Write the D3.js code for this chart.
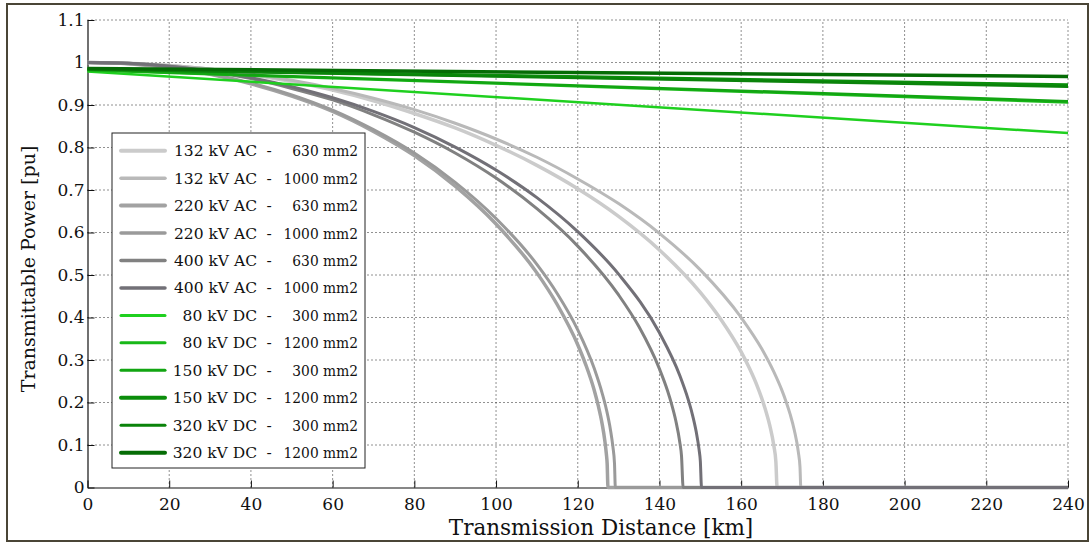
<!DOCTYPE html>
<html>
<head>
<meta charset="utf-8">
<script src="https://cdn.jsdelivr.net/npm/d3@7"></script>
<style>
  html, body { margin: 0; padding: 0; background: #fff; }
  svg { display: block; }
  text { font-family: "DejaVu Serif", "Liberation Serif", serif; fill: #111; }
</style>
</head>
<body>
<svg id="chart" width="1092" height="543"></svg>
<script>
// ---------------- DATA ----------------
const xTicks = [0, 20, 40, 60, 80, 100, 120, 140, 160, 180, 200, 220, 240];
const yTicks = [0, 0.1, 0.2, 0.3, 0.4, 0.5, 0.6, 0.7, 0.8, 0.9, 1.0, 1.1];
const yTickLabels = ["0", "0.1", "0.2", "0.3", "0.4", "0.5", "0.6", "0.7", "0.8", "0.9", "1", "1.1"];

const seriesNames = [
  ["132 kV AC", "630 mm2"], ["132 kV AC", "1000 mm2"],
  ["220 kV AC", "630 mm2"], ["220 kV AC", "1000 mm2"],
  ["400 kV AC", "630 mm2"], ["400 kV AC", "1000 mm2"],
  ["80 kV DC", "300 mm2"], ["80 kV DC", "1200 mm2"],
  ["150 kV DC", "300 mm2"], ["150 kV DC", "1200 mm2"],
  ["320 kV DC", "300 mm2"], ["320 kV DC", "1200 mm2"]
];

// AC cables (distance km / transmittable power pu)
const ac132_630_km = [0, 10, 20, 30, 40, 50, 60, 70, 80, 90, 100, 110, 120, 130, 140, 150, 155, 160, 162, 164, 165, 166, 167, 168, 168.5, 168.8, 240];
const ac132_630_pu = [1.0, 0.998, 0.993, 0.984, 0.971, 0.955, 0.935, 0.910, 0.880, 0.846, 0.805, 0.758, 0.703, 0.638, 0.559, 0.459, 0.396, 0.319, 0.281, 0.237, 0.211, 0.181, 0.146, 0.098, 0.060, 0, 0];

const ac132_1000_km = [0, 10, 20, 30, 40, 50, 60, 70, 80, 90, 100, 110, 120, 130, 140, 150, 160, 165, 168, 170, 171, 172, 173, 174, 174.4, 174.6, 240];
const ac132_1000_pu = [1.0, 0.998, 0.993, 0.985, 0.973, 0.958, 0.939, 0.916, 0.889, 0.857, 0.820, 0.777, 0.726, 0.668, 0.598, 0.512, 0.400, 0.327, 0.272, 0.228, 0.202, 0.172, 0.135, 0.083, 0.048, 0, 0];

const ac220_630_km = [0, 10, 20, 30, 40, 50, 60, 70, 80, 90, 100, 110, 115, 120, 122, 124, 125, 126, 126.6, 127, 127.2, 127.4, 240];
const ac220_630_pu = [1.0, 0.997, 0.988, 0.972, 0.950, 0.921, 0.885, 0.838, 0.781, 0.709, 0.620, 0.505, 0.430, 0.336, 0.288, 0.230, 0.193, 0.148, 0.112, 0.079, 0.056, 0, 0];

const ac220_1000_km = [0, 10, 20, 30, 40, 50, 60, 70, 80, 90, 100, 110, 115, 120, 124, 126, 127, 128, 128.6, 129, 129.2, 240];
const ac220_1000_pu = [1.0, 0.997, 0.988, 0.973, 0.952, 0.924, 0.888, 0.842, 0.787, 0.718, 0.633, 0.525, 0.456, 0.371, 0.281, 0.221, 0.184, 0.136, 0.096, 0.056, 0, 0];

const ac400_630_km = [0, 10, 20, 30, 40, 50, 60, 70, 80, 90, 100, 110, 120, 130, 135, 140, 142, 143, 144, 145, 145.4, 145.8, 240];
const ac400_630_pu = [1.0, 0.998, 0.991, 0.979, 0.962, 0.939, 0.912, 0.877, 0.836, 0.787, 0.728, 0.656, 0.568, 0.453, 0.378, 0.279, 0.227, 0.195, 0.157, 0.105, 0.074, 0, 0];

const ac400_1000_km = [0, 10, 20, 30, 40, 50, 60, 70, 80, 90, 100, 110, 120, 130, 140, 145, 147, 148, 149, 149.7, 150, 150.3, 240];
const ac400_1000_pu = [1.0, 0.998, 0.991, 0.980, 0.964, 0.943, 0.917, 0.885, 0.847, 0.801, 0.747, 0.682, 0.602, 0.502, 0.364, 0.263, 0.208, 0.174, 0.131, 0.089, 0.063, 0, 0];

// DC cables (linear decline)
const dc_km = [0, 240];
const dc80_300_pu = [0.979, 0.834];
const dc80_1200_pu = [0.982, 0.906];
const dc150_300_pu = [0.983, 0.909];
const dc150_1200_pu = [0.985, 0.947];
const dc320_300_pu = [0.984, 0.943];
const dc320_1200_pu = [0.986, 0.967];

// ---------------- BUILD ----------------
const seriesKm = [ac132_630_km, ac132_1000_km, ac220_630_km, ac220_1000_km, ac400_630_km, ac400_1000_km,
                  dc_km, dc_km, dc_km, dc_km, dc_km, dc_km];
const seriesPu = [ac132_630_pu, ac132_1000_pu, ac220_630_pu, ac220_1000_pu, ac400_630_pu, ac400_1000_pu,
                  dc80_300_pu, dc80_1200_pu, dc150_300_pu, dc150_1200_pu, dc320_300_pu, dc320_1200_pu];
const colors = ["#cbcbcb", "#b9b9b9", "#a2a2a2", "#9a9a9a", "#818181", "#727077",
                "#1fd01f", "#18b818", "#12a512", "#0b8d0b", "#0a830a", "#056c05"];
const widths = [3.5, 3, 3.5, 3, 3, 3, 2.5, 2.5, 2.5, 3.5, 2.5, 3.5];

const svg = d3.select("#chart");

// outer frame
svg.append("rect").attr("x", 7).attr("y", 4).attr("width", 1081).attr("height", 537)
  .attr("fill", "#fff").attr("stroke", "#4a4536").attr("stroke-width", 2);

const x = d3.scaleLinear().domain([0, 240]).range([87.5, 1068]);
const y = d3.scaleLinear().domain([0, 1.1]).range([487.5, 20]);

// grid
const grid = svg.append("g");
grid.selectAll("line.gx").data(xTicks.filter(d => d > 0)).join("line")
  .attr("x1", d => x(d)).attr("x2", d => x(d)).attr("y1", y(0)).attr("y2", y(1.1))
  .attr("stroke", "#222").attr("stroke-width", 1).attr("stroke-dasharray", "1,3");
grid.selectAll("line.gy").data(yTicks.filter(d => d > 0)).join("line")
  .attr("x1", x(0)).attr("x2", x(240)).attr("y1", d => y(d)).attr("y2", d => y(d))
  .attr("stroke", "#222").attr("stroke-width", 1).attr("stroke-dasharray", "1,3");

// axes
const xAxis = d3.axisBottom(x).tickValues(xTicks).tickFormat(d3.format("d"))
  .tickSizeInner(-7).tickSizeOuter(0).tickPadding(10);
const yAxis = d3.axisLeft(y).tickValues(yTicks).tickFormat((d, i) => yTickLabels[i])
  .tickSizeInner(-7).tickSizeOuter(0).tickPadding(3);

const gx = svg.append("g").attr("transform", `translate(0,${y(0)})`).call(xAxis);
const gy = svg.append("g").attr("transform", `translate(${x(0)},0)`).call(yAxis);
[gx, gy].forEach(g => {
  g.select(".domain").attr("stroke", "#111").attr("stroke-width", 1.2);
  g.selectAll(".tick line").attr("stroke", "#111");
  g.selectAll(".tick text").style("font-family", "'DejaVu Serif', serif").style("font-size", "17px").attr("fill", "#111");
});

// lines
const line = d3.line().curve(d3.curveMonotoneX);
const linesG = svg.append("g");
seriesPu.forEach((pu, i) => {
  const pts = seriesKm[i].map((k, j) => [x(k), y(pu[j])]);
  linesG.append("path").attr("d", line(pts)).attr("fill", "none")
    .attr("stroke", colors[i]).attr("stroke-width", widths[i])
    .attr("stroke-linejoin", "round");
});

// axis titles
svg.append("text").attr("x", 601).attr("y", 535).attr("text-anchor", "middle")
  .style("font-size", "21.5px").text("Transmission Distance [km]");
svg.append("text").attr("transform", "translate(35,269) rotate(-90)").attr("text-anchor", "middle")
  .style("font-size", "19px").text("Transmittable Power [pu]");

// legend
const lg = svg.append("g");
lg.append("rect").attr("x", 112).attr("y", 133).attr("width", 253).attr("height", 335)
  .attr("fill", "#fff").attr("stroke", "#222").attr("stroke-width", 1);
seriesNames.forEach((nm, i) => {
  const cy = 150.7 + i * 27.45;
  lg.append("line").attr("x1", 121).attr("x2", 165).attr("y1", cy).attr("y2", cy)
    .attr("stroke", colors[i]).attr("stroke-width", widths[i] + 0.5).attr("stroke-linecap", "round");
  lg.append("text").attr("x", 257).attr("y", cy + 5.5).attr("text-anchor", "end")
    .style("font-size", "15.5px").text(nm[0]);
  lg.append("text").attr("x", 269).attr("y", cy + 5.5).attr("text-anchor", "middle")
    .style("font-size", "15.5px").text("-");
  const t = lg.append("text").attr("x", 358).attr("y", cy + 5.5).attr("text-anchor", "end")
    .style("font-size", "15.5px").text(nm[1]);
  const w = t.node().getComputedTextLength();
  t.attr("textLength", w * 0.89).attr("lengthAdjust", "spacingAndGlyphs");
});
</script>
</body>
</html>
